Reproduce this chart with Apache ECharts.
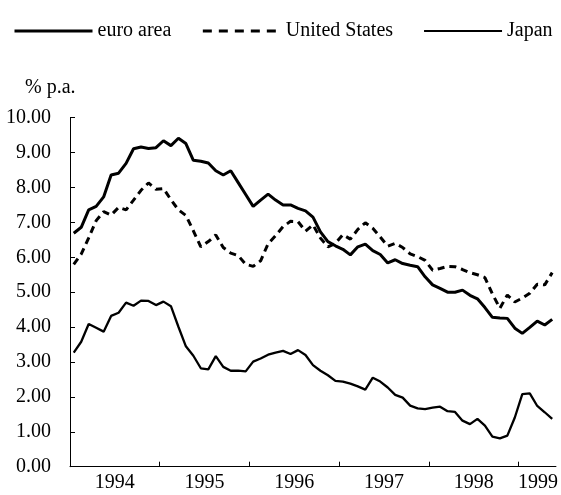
<!DOCTYPE html>
<html>
<head>
<meta charset="utf-8">
<script src="https://cdn.jsdelivr.net/npm/echarts@6/dist/echarts.min.js"></script>
<style>
  html, body { margin: 0; padding: 0; background: #fff; }
  #chart { width: 561px; height: 495px; }
</style>
</head>
<body>
<div id="chart"></div>
<script>
// monthly, Jan 1994 .. May 1999 (% p.a.)
var euroArea = [6.69, 6.86, 7.36, 7.46, 7.73, 8.36, 8.41, 8.69, 9.11, 9.16, 9.12, 9.14,
    9.34, 9.20, 9.41, 9.26, 8.78, 8.75, 8.70, 8.48, 8.36, 8.48, 8.14, 7.80,
    7.46, 7.64, 7.81, 7.64, 7.50, 7.50, 7.40, 7.33, 7.15, 6.73, 6.45, 6.33,
    6.23, 6.07, 6.30, 6.38, 6.19, 6.08, 5.84, 5.93, 5.82, 5.77, 5.73, 5.44,
    5.21, 5.11, 5.00, 5.00, 5.06, 4.91, 4.81, 4.56, 4.28, 4.26, 4.25, 3.97,
    3.82, 3.99, 4.17, 4.06, 4.22];
var unitedStates = [5.80, 6.09, 6.56, 7.05, 7.31, 7.21, 7.43, 7.36, 7.64, 7.92, 8.13, 7.95,
    7.97, 7.65, 7.36, 7.20, 6.76, 6.30, 6.45, 6.64, 6.28, 6.12, 6.05, 5.80,
    5.74, 5.90, 6.39, 6.62, 6.88, 7.03, 7.02, 6.75, 6.93, 6.55, 6.30, 6.40,
    6.65, 6.52, 6.80, 6.99, 6.83, 6.58, 6.32, 6.40, 6.28, 6.10, 6.02, 5.91,
    5.63, 5.68, 5.74, 5.73, 5.65, 5.56, 5.50, 5.42, 4.95, 4.54, 4.92, 4.72,
    4.83, 4.97, 5.23, 5.21, 5.56];
var japan = [3.27, 3.58, 4.09, 3.98, 3.87, 4.32, 4.41, 4.70, 4.61, 4.76, 4.75, 4.63,
    4.73, 4.60, 4.01, 3.45, 3.18, 2.82, 2.79, 3.17, 2.86, 2.75, 2.75, 2.73,
    3.01, 3.10, 3.21, 3.27, 3.32, 3.23, 3.34, 3.20, 2.91, 2.75, 2.62, 2.46,
    2.44, 2.38, 2.30, 2.21, 2.55, 2.44, 2.27, 2.06, 1.98, 1.75, 1.67, 1.65,
    1.69, 1.72, 1.59, 1.57, 1.32, 1.22, 1.37, 1.18, 0.86, 0.81, 0.89, 1.41,
    2.08, 2.10, 1.74, 1.56, 1.37];

var seriesNames = ['euro area', 'United States', 'Japan'];
var years = ['1994', '1995', '1996', '1997', '1998', '1999'];
// x positions (months from Jan 1994) where the year labels sit
var yearLabelPos = [6, 18, 30, 42, 54, 62.6];
var yearTicks = [12, 24, 36, 48, 60];

var font = 'Liberation Serif';

function toPoints(values) {
    return values.map(function (v, i) { return [i + 0.5, v]; });
}

var chart = echarts.init(document.getElementById('chart'));

var option = {
    animation: false,
    backgroundColor: '#fff',
    title: {
        text: '% p.a.',
        left: 20,
        top: 73,
        textStyle: { fontFamily: font, fontSize: 20, fontWeight: 'normal', color: '#000' }
    },
    legend: {
        left: 8,
        top: 16,
        itemWidth: 78,
        itemHeight: 20,
        itemGap: 30,
        itemStyle: { opacity: 0 },
        textStyle: { fontFamily: font, fontSize: 20, color: '#000' },
        data: [
            { name: seriesNames[0], lineStyle: { width: 3 } },
            { name: seriesNames[1], lineStyle: { width: 3, type: [9, 7] } },
            { name: seriesNames[2], lineStyle: { width: 2 } }
        ]
    },
    grid: { left: 70, right: 5, top: 117.7, bottom: 28.3 },
    xAxis: {
        type: 'value',
        min: 0,
        max: 65,
        axisLine: { lineStyle: { color: '#000', width: 1 } },
        axisTick: { inside: true, length: 5, customValues: yearTicks, lineStyle: { color: '#000' } },
        axisLabel: {
            customValues: yearLabelPos,
            margin: 6,
            fontFamily: font,
            fontSize: 20,
            color: '#000',
            formatter: function (v) {
                var k = yearLabelPos.indexOf(v);
                return k >= 0 ? years[k] : '';
            }
        },
        splitLine: { show: false }
    },
    yAxis: {
        type: 'value',
        min: 0,
        max: 10,
        interval: 1,
        axisLine: { show: true, lineStyle: { color: '#000', width: 1 } },
        axisTick: { show: true, inside: true, length: 5, lineStyle: { color: '#000' } },
        axisLabel: {
            margin: 19,
            fontFamily: font,
            fontSize: 20,
            color: '#000',
            formatter: function (v) { return v.toFixed(2); }
        },
        splitLine: { show: false }
    },
    series: [
        {
            name: seriesNames[0],
            type: 'line',
            symbol: 'none',
            data: toPoints(euroArea),
            lineStyle: { color: '#000', width: 3 },
            itemStyle: { color: '#000' }
        },
        {
            name: seriesNames[1],
            type: 'line',
            symbol: 'none',
            data: toPoints(unitedStates),
            lineStyle: { color: '#000', width: 3, type: [7, 5] },
            itemStyle: { color: '#000' }
        },
        {
            name: seriesNames[2],
            type: 'line',
            symbol: 'none',
            data: toPoints(japan),
            lineStyle: { color: '#000', width: 2.3 },
            itemStyle: { color: '#000' }
        }
    ]
};

chart.setOption(option);

window.onresize = chart.resize;
</script>
</body>
</html>
